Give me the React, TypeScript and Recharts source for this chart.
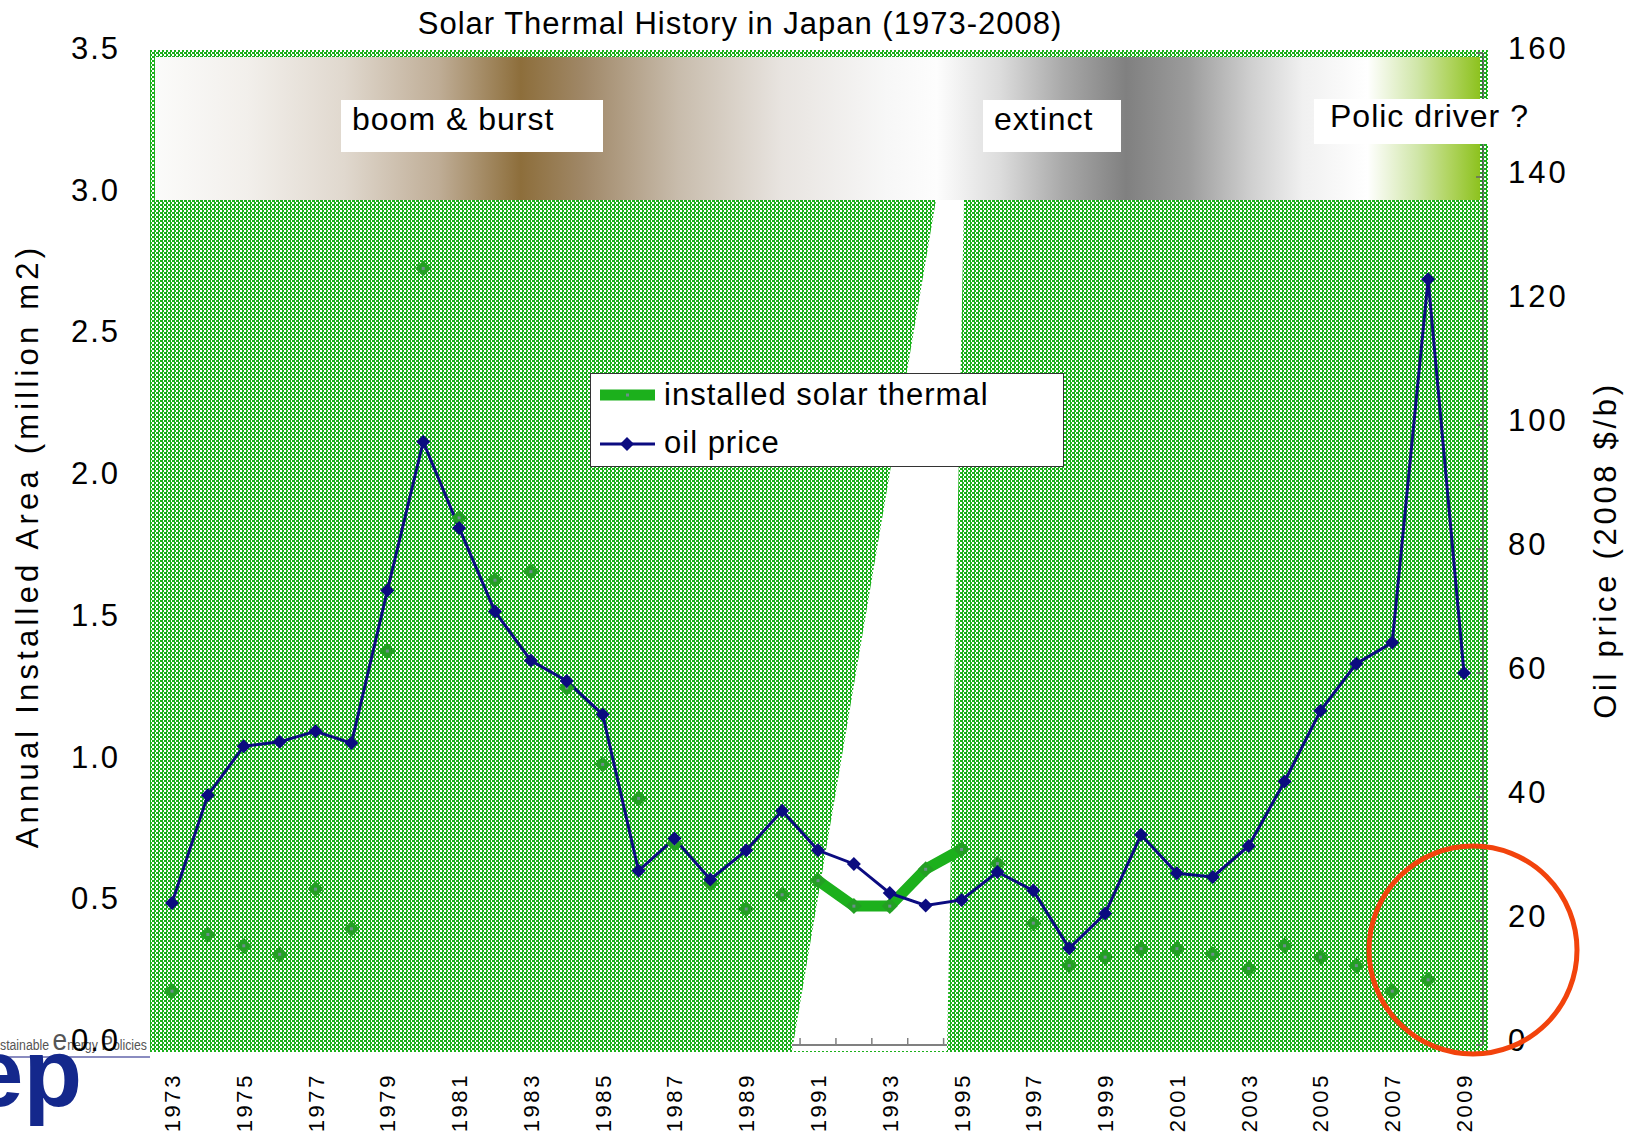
import React from 'react';
import { ComposedChart, Line, XAxis, YAxis, ReferenceArea, Legend } from 'recharts';

// données
const years = [
  '1973', '1974', '1975', '1976', '1977', '1978', '1979', '1980', '1981', '1982',
  '1983', '1984', '1985', '1986', '1987', '1988', '1989', '1990', '1991', '1992',
  '1993', '1994', '1995', '1996', '1997', '1998', '1999', '2000', '2001', '2002',
  '2003', '2004', '2005', '2006', '2007', '2008', '2009',
];

// million m2 installés par an
const solarArea = [
  0.19, 0.39, 0.35, 0.32, 0.55, 0.41, 1.39, 2.74, 1.86, 1.64,
  1.67, 1.26, 0.99, 0.87, 0.71, 0.57, 0.48, 0.53, 0.58, 0.49,
  0.49, 0.62, 0.69, 0.64, 0.43, 0.28, 0.31, 0.34, 0.34, 0.32,
  0.27, 0.35, 0.31, 0.28, 0.19, 0.23, null,
];

// $/b (2008)
const oilPrice = [
  22.9, 40.3, 48.2, 48.9, 50.6, 48.7, 73.3, 97.3, 83.4, 69.9,
  62.0, 58.7, 53.3, 28.1, 33.3, 26.7, 31.4, 37.8, 31.4, 29.2,
  24.5, 22.5, 23.4, 27.9, 24.9, 15.6, 21.2, 33.9, 27.7, 27.1,
  32.1, 42.5, 53.9, 61.5, 64.9, 123.5, 60.0,
];

const areaTicks = [0, 0.5, 1, 1.5, 2, 2.5, 3, 3.5];
const oilTicks = [0, 20, 40, 60, 80, 100, 120, 140, 160];
const phaseNames = ['boom & burst', 'extinct', 'Polic driver ?'];
// années où la courbe solaire est visible (trou dans la trame)
const gapYears = ['1991', '1992', '1993', '1994', '1995'];

const rows = years.map((year, i) => ({
  year,
  solar: solarArea[i],
  oil: oilPrice[i],
  solarGap: gapYears.includes(year) ? solarArea[i] : null,
}));

const FONT = '"Liberation Sans", Arial, sans-serif';
const GREEN = '#1cb01c';
const NAVY = '#0b0b80';
const PAD_L = 21;
const PAD_R = 19;

function Backdrop(props: any) {
  const { x: x0, y, width: w0, height: h } = props;
  // x0 = point 1973, w0 = 1973 -> 2009 ; on revient aux bords du tracé
  const step = w0 / (years.length - 1);
  const x = x0 - PAD_L;
  const w = w0 + PAD_L + PAD_R;
  const wedge = [
    [x + 785, y + 147],
    [x + 813, y + 147],
    [x + 796, y + 998],
    [x + 641, y + 998],
  ];
  const outer = `M${x - 1},${y - 3} H${x + w + 5} V${y + h + 7} H${x - 1} Z`;
  const hole = `M${wedge.map((p) => p.join(',')).join(' L')} Z`;
  const gapTicks: number[] = [];
  for (let k = 0; k <= years.length; k++) {
    const tx = x0 + (k - 0.5) * step;
    if (tx > x + 641 && tx < x + 796) gapTicks.push(tx);
  }
  return (
    <g>
      <defs>
        <pattern id="dots" width="4" height="4" patternUnits="userSpaceOnUse">
          <rect width="4" height="4" fill="#fff" />
          <rect x="0" y="0" width="3" height="2" fill={GREEN} />
          <rect x="2" y="2" width="2" height="2" fill={GREEN} />
        </pattern>
        <linearGradient id="band" x1="0" x2="1" y1="0" y2="0">
          <stop offset="0" stopColor="#fbfbfa" />
          <stop offset="0.07" stopColor="#f2efeb" />
          <stop offset="0.143" stopColor="#e0d8ce" />
          <stop offset="0.214" stopColor="#bfad96" />
          <stop offset="0.276" stopColor="#8d6e3b" />
          <stop offset="0.324" stopColor="#a08868" />
          <stop offset="0.395" stopColor="#c8bcac" />
          <stop offset="0.473" stopColor="#e8e4e0" />
          <stop offset="0.552" stopColor="#f7f7f7" />
          <stop offset="0.59" stopColor="#fdfdfd" />
          <stop offset="0.638" stopColor="#dcdcdc" />
          <stop offset="0.686" stopColor="#a8a8a8" />
          <stop offset="0.733" stopColor="#808080" />
          <stop offset="0.78" stopColor="#9c9c9c" />
          <stop offset="0.827" stopColor="#cfcfcf" />
          <stop offset="0.866" stopColor="#f0f0f0" />
          <stop offset="0.915" stopColor="#ffffff" />
          <stop offset="0.953" stopColor="#d0e6a8" />
          <stop offset="0.977" stopColor="#b0d460" />
          <stop offset="1" stopColor="#8dc21f" />
        </linearGradient>
      </defs>
      <path d={`${outer} ${hole}`} fill="url(#dots)" fillRule="evenodd" />
      <rect x={x + 4} y={y + 4} width={w - 7} height={143} fill="url(#band)" />
      <line x1={x + 641} x2={x + 796} y1={y + h} y2={y + h} stroke="#808080" strokeWidth={2} />
      {gapTicks.map((tx) => (
        <line key={tx} x1={tx} x2={tx} y1={y + h} y2={y + h - 7} stroke="#808080" strokeWidth={1.5} />
      ))}
    </g>
  );
}

function AreaTick({ x, y, payload }: any) {
  return (
    <text x={x - 31} y={y + 6} textAnchor="end" fontSize={31} letterSpacing={2} fill="#000" fontFamily={FONT}>
      {Number(payload.value).toFixed(1)}
    </text>
  );
}

function OilTick({ x, y, payload }: any) {
  return (
    <g>
      <line x1={x - 7} x2={x} y1={y} y2={y} stroke="#666" strokeWidth={1.5} />
      <text x={x + 25} y={y + 6} textAnchor="start" fontSize={31} letterSpacing={3} fill="#000" fontFamily={FONT}>
        {payload.value}
      </text>
    </g>
  );
}

function YearTick({ x, y, payload }: any) {
  const ty = y + 28;
  return (
    <text
      x={x}
      y={ty}
      dy={8}
      transform={`rotate(-90, ${x}, ${ty})`}
      textAnchor="end"
      fontSize={22}
      letterSpacing={2.6}
      fill="#000"
      fontFamily={FONT}
    >
      {payload.value}
    </text>
  );
}

function SolarDot({ cx, cy }: any) {
  if (cx == null || cy == null) return null;
  return (
    <g>
      <polygon points={`${cx},${cy - 8} ${cx + 8},${cy} ${cx},${cy + 8} ${cx - 8},${cy}`} fill="#239f23" />
      <rect x={cx - 1.5} y={cy - 1.5} width={3} height={3} fill="#6a8f8a" />
    </g>
  );
}

function OilDot({ cx, cy }: any) {
  if (cx == null || cy == null) return null;
  return <polygon points={`${cx},${cy - 7} ${cx + 7},${cy} ${cx},${cy + 7} ${cx - 7},${cy}`} fill={NAVY} />;
}

function LegendBox() {
  return (
    <svg width={474} height={94} style={{ display: 'block' }}>
      <rect x={0.5} y={0.5} width={473} height={93} fill="#fff" stroke="#333" />
      <line x1={10} x2={65} y1={22} y2={22} stroke={GREEN} strokeWidth={11} />
      <rect x={36} y={20.5} width={3} height={3} fill="#6a8f8a" />
      <text x={74} y={32} fontSize={31} letterSpacing={1} fontFamily={FONT} fill="#000">
        installed solar thermal
      </text>
      <line x1={10} x2={65} y1={71} y2={71} stroke={NAVY} strokeWidth={3} />
      <polygon points="37,64 44,71 37,78 30,71" fill={NAVY} />
      <text x={74} y={80} fontSize={31} letterSpacing={1} fontFamily={FONT} fill="#000">
        oil price
      </text>
    </svg>
  );
}

export default function App() {
  return (
    <div style={{ position: 'absolute', left: 0, top: 0, width: 1635, height: 1135, background: '#fff', fontFamily: FONT }}>
      {/* logo en bas à gauche */}
      <svg width={1635} height={1135} style={{ position: 'absolute', left: 0, top: 0 }}>
        <text x={0} y={1050} fontSize={14} fill="#555" textLength={147} lengthAdjust="spacingAndGlyphs" fontFamily={FONT}>
          stainable <tspan fontSize={30}>e</tspan>nergy <tspan fontSize={20}>P</tspan>olicies
        </text>
        <line x1={0} x2={150} y1={1057} y2={1057} stroke="#8a8cc0" strokeWidth={2} />
        <text x={-30} y={1106} fontSize={96} fontWeight="bold" fill="#14288c" fontFamily={FONT}>ep</text>
      </svg>

      <div style={{ position: 'absolute', left: 0, top: 0 }}>
        <ComposedChart width={1635} height={1135} data={rows} margin={{ top: 53, right: 0, bottom: 0, left: 0 }}>
          <ReferenceArea
            yAxisId="left"
            x1={years[0]}
            x2={years[years.length - 1]}
            y1={0}
            y2={3.5}
            ifOverflow="visible"
            shape={<Backdrop />}
            zIndex={-50}
          />
          <XAxis
            dataKey="year"
            height={90}
            interval={1}
            padding={{ left: PAD_L, right: PAD_R }}
            tickSize={0}
            tickMargin={0}
            axisLine={false}
            tickLine={false}
            tick={<YearTick />}
          />
          <YAxis
            yAxisId="left"
            width={151}
            domain={[0, 3.5]}
            ticks={areaTicks}
            tickSize={0}
            tickMargin={0}
            axisLine={false}
            tickLine={false}
            tick={<AreaTick />}
          />
          <YAxis
            yAxisId="right"
            orientation="right"
            width={152}
            domain={[0, 160]}
            ticks={oilTicks}
            tickSize={0}
            tickMargin={0}
            axisLine={{ stroke: '#555', strokeWidth: 1.5 }}
            tickLine={false}
            tick={<OilTick />}
          />
          <Line
            yAxisId="left"
            dataKey="solarGap"
            stroke={GREEN}
            strokeWidth={11}
            dot={false}
            activeDot={false}
            isAnimationActive={false}
            legendType="none"
          />
          <Line
            yAxisId="left"
            dataKey="solar"
            name="installed solar thermal"
            stroke="none"
            dot={<SolarDot />}
            activeDot={false}
            isAnimationActive={false}
          />
          <Line
            yAxisId="right"
            dataKey="oil"
            name="oil price"
            stroke={NAVY}
            strokeWidth={3}
            dot={<OilDot />}
            activeDot={false}
            isAnimationActive={false}
          />
          <Legend
            layout="vertical"
            align="center"
            verticalAlign="middle"
            content={() => <LegendBox />}
            wrapperStyle={{ left: 590, top: 373, width: 474, height: 94 }}
          />
        </ComposedChart>
      </div>

      {/* titres et annotations */}
      <svg width={1635} height={1135} style={{ position: 'absolute', left: 0, top: 0, pointerEvents: 'none' }}>
        <text x={740} y={34} textAnchor="middle" fontSize={31} letterSpacing={1} fontFamily={FONT} fill="#000">
          Solar Thermal History in Japan (1973-2008)
        </text>
        <text x={38} y={546} transform="rotate(-90, 38, 546)" textAnchor="middle" fontSize={31} letterSpacing={4.2} fontFamily={FONT} fill="#000">
          Annual Installed Area (million m2)
        </text>
        <text x={1616} y={550} transform="rotate(-90, 1616, 550)" textAnchor="middle" fontSize={31} letterSpacing={3.7} fontFamily={FONT} fill="#000">
          Oil price (2008 $/b)
        </text>

        <rect x={341} y={100} width={262} height={52} fill="#fff" />
        <text x={352} y={130} fontSize={32} letterSpacing={1} fontFamily={FONT} fill="#000">{phaseNames[0]}</text>
        <rect x={983} y={100} width={138} height={52} fill="#fff" />
        <text x={994} y={130} fontSize={32} letterSpacing={1} fontFamily={FONT} fill="#000">{phaseNames[1]}</text>
        <rect x={1314} y={99} width={177} height={45} fill="#fff" />
        <text x={1330} y={127} fontSize={32} letterSpacing={1} fontFamily={FONT} fill="#000">{phaseNames[2]}</text>

        <circle cx={1473} cy={950} r={104} fill="none" stroke="#f2430c" strokeWidth={5} />
      </svg>
    </div>
  );
}
